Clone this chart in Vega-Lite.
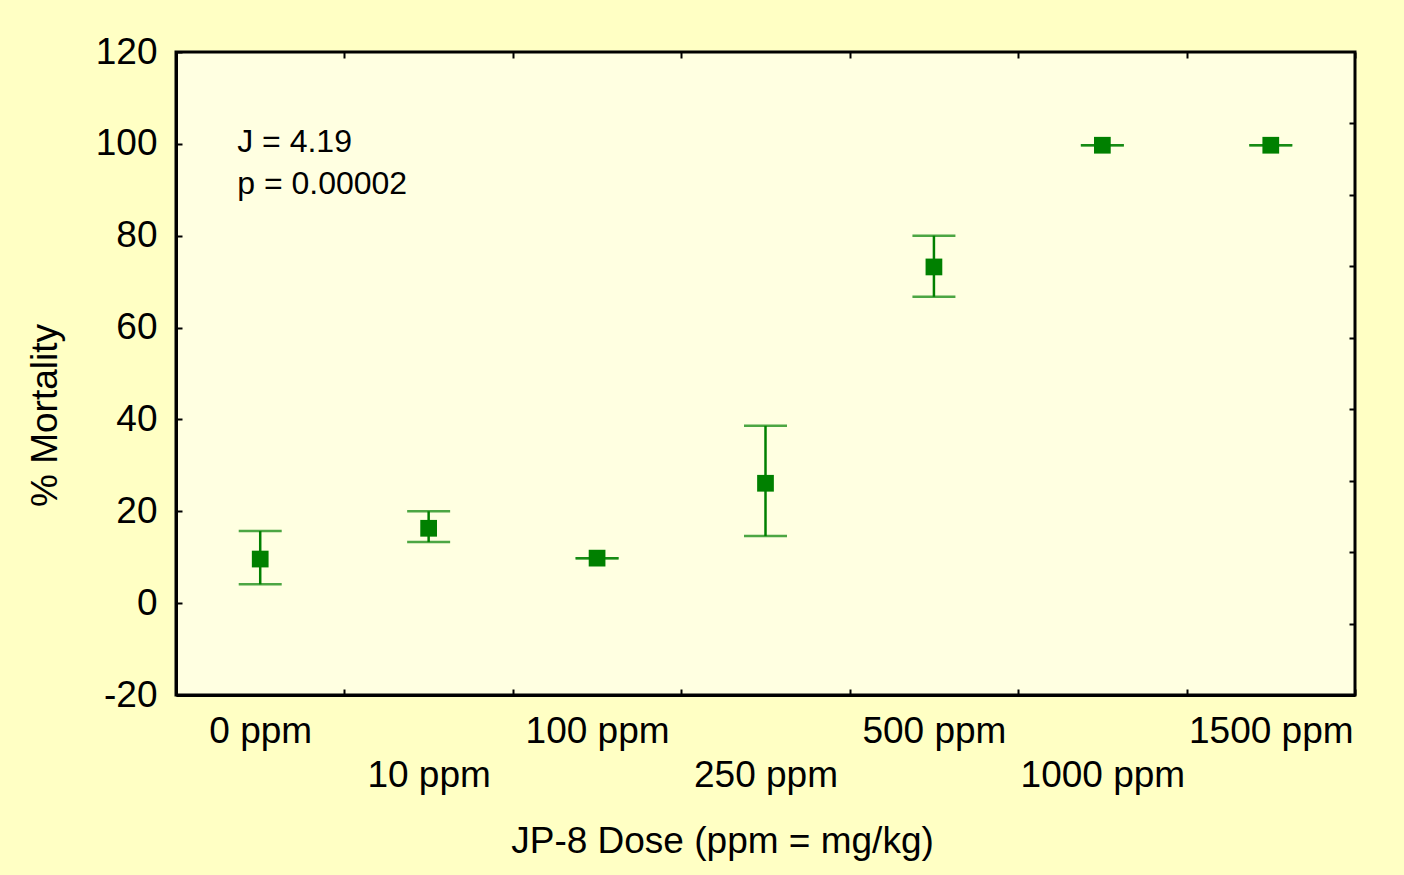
{
  "$schema": "https://vega.github.io/schema/vega-lite/v6.json",
  "autosize": "none",
  "width": 1179,
  "height": 643,
  "padding": {"left": 176, "top": 52, "right": 49, "bottom": 180},
  "background": "#FFFFC4",
  "config": {
    "font": "Liberation Sans",
    "view": {"stroke": "black", "strokeWidth": 3, "fill": "#FFFFE1"},
    "axis": {"domainColor": "black", "domainWidth": 3, "tickColor": "black", "tickWidth": 2, "labelColor": "black", "titleColor": "black", "grid": false, "labelFont": "Liberation Sans", "titleFont": "Liberation Sans", "titleFontWeight": "normal"}
  },
  "data": {
    "values": [
      {"dose": "0 ppm", "mortality": 9.6, "lower": 4.1, "upper": 15.7},
      {"dose": "10 ppm", "mortality": 16.3, "lower": 13.3, "upper": 20.0},
      {"dose": "100 ppm", "mortality": 9.8, "lower": 9.8, "upper": 9.8},
      {"dose": "250 ppm", "mortality": 26.1, "lower": 14.6, "upper": 38.6},
      {"dose": "500 ppm", "mortality": 73.2, "lower": 66.7, "upper": 80.0},
      {"dose": "1000 ppm", "mortality": 99.7, "lower": 99.7, "upper": 99.7},
      {"dose": "1500 ppm", "mortality": 99.7, "lower": 99.7, "upper": 99.7}
    ]
  },
  "layer": [
    {
      "mark": {"type": "rule", "color": "#008000", "strokeWidth": 2.5},
      "encoding": {
        "x": {"field": "dose", "type": "nominal", "sort": null,
          "scale": {"paddingInner": 0, "paddingOuter": 0},
          "axis": {"orient": "bottom", "title": "JP-8 Dose (ppm = mg/kg)", "labelAngle": 0, "tickBand": "extent", "tickSize": -6, "labelFontSize": 37, "labelPadding": 24, "labelBaseline": "top", "labelLineHeight": 44,
            "labelExpr": "indexof(['10 ppm','250 ppm','1000 ppm'], datum.label) >= 0 ? ['', datum.label] : datum.label",
            "titleFontSize": 37, "titleX": 546, "titleY": 157, "titleBaseline": "alphabetic", "titleAnchor": "middle", "titleAlign": "center"}},
        "y": {"field": "lower", "type": "quantitative",
          "scale": {"domain": [-20, 120], "nice": false, "zero": false},
          "axis": {"orient": "left", "title": "% Mortality", "values": [-20, 0, 20, 40, 60, 80, 100, 120], "labelExpr": "'' + datum.value", "tickSize": -6, "labelFontSize": 37, "labelPadding": 25, "titleFontSize": 37, "titleX": -120, "titleY": 363, "titleBaseline": "alphabetic", "titleAngle": -90, "titleAlign": "center"}},
        "y2": {"field": "upper"}
      }
    },
    {
      "mark": {"type": "tick", "color": "#008000", "orient": "horizontal", "size": 43, "thickness": 2.5},
      "encoding": {
        "x": {"field": "dose", "type": "nominal", "sort": null,
          "axis": {"orient": "top", "title": null, "labels": false, "tickBand": "extent", "tickSize": -6, "domain": false}},
        "y": {"field": "lower", "type": "quantitative",
          "axis": {"orient": "right", "title": null, "labels": false, "tickSize": -6, "domain": false,
            "values": [-4.444, 11.111, 26.667, 42.222, 57.778, 73.333, 88.889, 104.444]}}
      }
    },
    {
      "mark": {"type": "tick", "color": "#008000", "orient": "horizontal", "size": 43, "thickness": 2.5},
      "encoding": {
        "x": {"field": "dose", "type": "nominal", "sort": null, "axis": null},
        "y": {"field": "upper", "type": "quantitative", "axis": null}
      }
    },
    {
      "mark": {"type": "square", "color": "#008000", "filled": true, "opacity": 1, "size": 280},
      "encoding": {
        "x": {"field": "dose", "type": "nominal", "sort": null, "axis": null},
        "y": {"field": "mortality", "type": "quantitative", "axis": null}
      }
    },
    {
      "data": {"values": [{"stat": "J = 4.19\np = 0.00002"}]},
      "mark": {"type": "text", "text": ["J = 4.19", "p = 0.00002"], "align": "left", "baseline": "alphabetic", "fontSize": 32, "lineHeight": 42, "dx": -23, "color": "black", "font": "Liberation Sans"},
      "encoding": {
        "x": {"datum": "0 ppm", "type": "nominal", "axis": null},
        "y": {"datum": 98.2, "type": "quantitative", "axis": null}
      }
    }
  ],
  "resolve": {"axis": {"x": "independent", "y": "independent"}}
}
